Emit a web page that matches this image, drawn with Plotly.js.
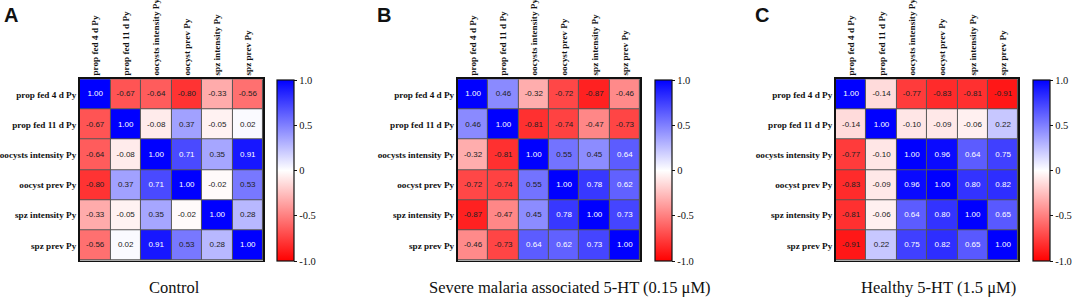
<!DOCTYPE html>
<html>
<head>
<meta charset="utf-8">
<script src="https://cdn.plot.ly/plotly-3.0.1.min.js"></script>
<style>html,body{margin:0;padding:0;background:#fff;}#chart{width:1072px;height:298px;}</style>
</head>
<body>
<div id="chart"></div>
<script>
const labels = ["prop fed 4 d Py", "prop fed 11 d Py", "oocysts intensity Py", "oocyst prev Py", "spz intensity Py", "spz prev Py"];
const colLabels = ["prop fed 4 d Py", "prop fed 11 d Py", "oocysts intensity Py", "oocyst prev Py", "spz intensity Py", "spz prev Py"];

const controlValues = [
  [1.00, -0.67, -0.64, -0.80, -0.33, -0.56],
  [-0.67, 1.00, -0.08, 0.37, -0.05, 0.02],
  [-0.64, -0.08, 1.00, 0.71, 0.35, 0.91],
  [-0.80, 0.37, 0.71, 1.00, -0.02, 0.53],
  [-0.33, -0.05, 0.35, -0.02, 1.00, 0.28],
  [-0.56, 0.02, 0.91, 0.53, 0.28, 1.00]
];
const severeValues = [
  [1.00, 0.46, -0.32, -0.72, -0.87, -0.46],
  [0.46, 1.00, -0.81, -0.74, -0.47, -0.73],
  [-0.32, -0.81, 1.00, 0.55, 0.45, 0.64],
  [-0.72, -0.74, 0.55, 1.00, 0.78, 0.62],
  [-0.87, -0.47, 0.45, 0.78, 1.00, 0.73],
  [-0.46, -0.73, 0.64, 0.62, 0.73, 1.00]
];
const healthyValues = [
  [1.00, -0.14, -0.77, -0.83, -0.81, -0.91],
  [-0.14, 1.00, -0.10, -0.09, -0.06, 0.22],
  [-0.77, -0.10, 1.00, 0.96, 0.64, 0.75],
  [-0.83, -0.09, 0.96, 1.00, 0.80, 0.82],
  [-0.81, -0.06, 0.64, 0.80, 1.00, 0.65],
  [-0.91, 0.22, 0.75, 0.82, 0.65, 1.00]
];
const panelTitles = ["Control", "Severe malaria associated 5-HT (0.15 μM)", "Healthy 5-HT (1.5 μM)"];
const panelLetters = ["A", "B", "C"];
const colorbarTicks = [-1, -0.5, 0, 0.5, 1];
const colorbarTickText = ["-1.0", "-0.5", "0", "0.5", "1.0"];

const W = 1072, H = 298;
const gridLeft = [80, 458.3, 836.7];
const gridRight = [263.3, 640.7, 1019.3];
const gridTop = 79.2, gridBottom = 260.5;
const cbLeft = [277, 655, 1033.3];
const titleX = [175, 571, 939];
const letterX = [11.5, 384.5, 762.5];

const serif = "Liberation Serif";
const sans = "Liberation Sans";
const colorscale = [[0, "rgb(255,0,0)"], [0.5, "rgb(255,255,255)"], [1, "rgb(0,0,255)"]];

const datasets = [controlValues, severeValues, healthyValues];
const traces = [];
const layout = {
  width: W, height: H,
  margin: {l: 0, r: 0, t: 0, b: 0},
  font: {family: serif, color: "#111"},
  paper_bgcolor: "#fff",
  plot_bgcolor: "#555",
  showlegend: false,
  annotations: []
};

datasets.forEach((vals, i) => {
  const xa = i === 0 ? "x" : "x" + (i + 1);
  const ya = i === 0 ? "y" : "y" + (i + 1);
  const xk = i === 0 ? "xaxis" : "xaxis" + (i + 1);
  const yk = i === 0 ? "yaxis" : "yaxis" + (i + 1);
  traces.push({
    type: "heatmap",
    x: colLabels, y: labels, z: vals,
    xaxis: xa, yaxis: ya,
    zmin: -1, zmax: 1,
    colorscale: colorscale,
    xgap: 1, ygap: 1,
    hoverinfo: "skip",
    colorbar: {
      x: cbLeft[i] / W, xanchor: "left", xpad: 0,
      y: 1 - 80 / H, yanchor: "top", ypad: 0,
      len: 181, lenmode: "pixels",
      thickness: 16.5,
      outlinewidth: 1.2, outlinecolor: "#111",
      tickmode: "array", tickvals: colorbarTicks, ticktext: colorbarTickText,
      ticks: "outside", ticklen: 3, tickwidth: 1, tickcolor: "#111",
      tickfont: {family: serif, size: 10.5, color: "#111"}
    }
  });
  const tx = [], ty = [], tt = [], tc = [];
  vals.forEach((row, r) => row.forEach((v, c) => {
    tx.push(colLabels[c]); ty.push(labels[r]);
    tt.push(v.toFixed(2));
    tc.push(v >= 0.6 ? "#ffffff" : "#222222");
  }));
  traces.push({
    type: "scatter", mode: "text",
    x: tx, y: ty, text: tt,
    xaxis: xa, yaxis: ya,
    textfont: {family: sans, size: 8, color: tc},
    hoverinfo: "skip", cliponaxis: false
  });
  layout[xk] = {
    domain: [gridLeft[i] / W, gridRight[i] / W],
    anchor: ya, side: "top",
    type: "category", categoryorder: "array", categoryarray: colLabels,
    tickangle: -90,
    tickfont: {family: serif, size: 9.2, color: "#111", weight: "bold"},
    ticklabelstandoff: -0.5,
    showgrid: false, zeroline: false,
    showline: true, mirror: true, linecolor: "#111", linewidth: 1.8,
    ticks: "", fixedrange: true
  };
  layout[yk] = {
    domain: [1 - gridBottom / H, 1 - gridTop / H],
    anchor: xa,
    type: "category", categoryorder: "array", categoryarray: labels,
    autorange: "reversed",
    tickfont: {family: serif, size: 9.2, color: "#111", weight: "bold"},
    ticklabelstandoff: -0.5,
    showgrid: false, zeroline: false,
    showline: true, mirror: true, linecolor: "#111", linewidth: 1.8,
    ticks: "", fixedrange: true
  };
  layout.annotations.push({
    xref: "paper", yref: "paper",
    x: titleX[i] / W, y: 1 - 287 / H,
    xanchor: "center", yanchor: "middle",
    text: panelTitles[i], showarrow: false,
    font: {family: serif, size: 16.5, color: "#111"}
  });
  layout.annotations.push({
    xref: "paper", yref: "paper",
    x: letterX[i] / W, y: 1 - 15 / H,
    xanchor: "center", yanchor: "middle",
    text: "<b>" + panelLetters[i] + "</b>", showarrow: false,
    font: {family: sans, size: 20, color: "#111"}
  });
});

Plotly.newPlot("chart", traces, layout, {displayModeBar: false, staticPlot: true});
</script>
</body>
</html>
